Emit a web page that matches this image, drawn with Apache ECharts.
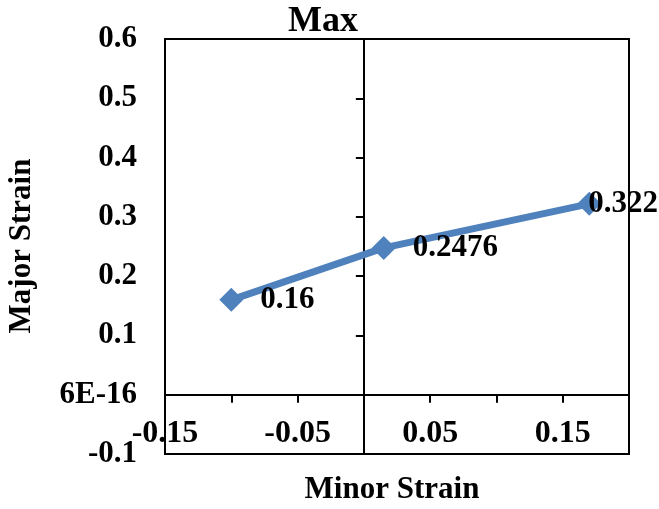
<!DOCTYPE html>
<html>
<head>
<meta charset="utf-8">
<script src="https://cdn.jsdelivr.net/npm/echarts@6/dist/echarts.min.js"></script>
<style>html,body{margin:0;padding:0;background:#fff}#c{width:659px;height:509px}</style>
</head>
<body>
<div id="c"></div>
<script>
var minorStrain = [-0.1, 0.015, 0.17];
var majorStrain = [0.16, 0.2476, 0.322];
var pointLabels = ['0.16', '0.2476', '0.322'];
var xTickLabels = ['-0.15', '', '-0.05', '', '0.05', '', '0.15', ''];
var yTickLabels = ['-0.1', '6E-16', '0.1', '0.2', '0.3', '0.4', '0.5', '0.6'];

var FONT = 'Liberation Serif';
var chart = echarts.init(document.getElementById('c'), null, {renderer: 'canvas'});

var seriesData = minorStrain.map(function (x, i) {
  var item = {value: [x, majorStrain[i]]};
  if (i === minorStrain.length - 1) {
    item.label = {distance: -13};
  }
  return item;
});

chart.setOption({
  animation: false,
  backgroundColor: '#fff',
  title: {
    text: 'Max',
    left: 318,
    top: -1,
    textAlign: 'center',
    textStyle: {fontFamily: FONT, fontWeight: 'bold', fontSize: 36, color: '#000'}
  },
  grid: {
    left: 165, right: 30, top: 39, bottom: 55,
    show: true, borderColor: '#000', borderWidth: 2, backgroundColor: 'transparent'
  },
  xAxis: {
    type: 'value',
    min: -0.15, max: 0.2, interval: 0.05,
    axisLine: {show: true, onZero: true, onZeroAxisIndex: 0, lineStyle: {color: '#000', width: 2}},
    axisTick: {show: true, length: 8, lineStyle: {color: '#000', width: 2}},
    splitLine: {show: false},
    axisLabel: {
      margin: -36,
      fontFamily: FONT, fontWeight: 'bold', fontSize: 32, color: '#000',
      formatter: function (v, i) { return xTickLabels[i] || ''; }
    }
  },
  yAxis: [{
    type: 'value',
    min: -0.1, max: 0.6, interval: 0.1,
    position: 'left',
    axisLine: {show: false, onZero: false},
    axisTick: {show: false},
    splitLine: {show: false},
    axisLabel: {
      margin: 28,
      fontFamily: FONT, fontWeight: 'bold', fontSize: 31, color: '#000',
      formatter: function (v, i) { return yTickLabels[i]; }
    }
  }, {
    type: 'value',
    min: -0.1, max: 0.6, interval: 0.1,
    position: 'left',
    axisLine: {show: true, onZero: true, onZeroAxisIndex: 0, lineStyle: {color: '#000', width: 2}},
    axisTick: {show: true, length: 8, lineStyle: {color: '#000', width: 2}},
    splitLine: {show: false},
    axisLabel: {show: false}
  }],
  graphic: [{
    type: 'text', x: 392, y: 490,
    style: {text: 'Minor Strain', fontFamily: FONT, fontWeight: 'bold', fontSize: 31, fill: '#000', align: 'center', verticalAlign: 'middle'}
  }, {
    type: 'text', x: 22, y: 246, rotation: Math.PI / 2,
    style: {text: 'Major Strain', fontFamily: FONT, fontWeight: 'bold', fontSize: 31, fill: '#000', align: 'center', verticalAlign: 'middle'}
  }],
  series: [{
    type: 'line',
    xAxisIndex: 0, yAxisIndex: 0,
    data: seriesData,
    symbol: 'diamond',
    symbolSize: 24,
    lineStyle: {color: '#4F81BD', width: 7},
    itemStyle: {color: '#4F81BD'},
    label: {
      show: true, position: 'right', distance: 17,
      fontFamily: FONT, fontWeight: 'bold', fontSize: 31, color: '#000',
      formatter: function (p) { return pointLabels[p.dataIndex]; }
    },
    z: 3
  }]
});
</script>
</body>
</html>
